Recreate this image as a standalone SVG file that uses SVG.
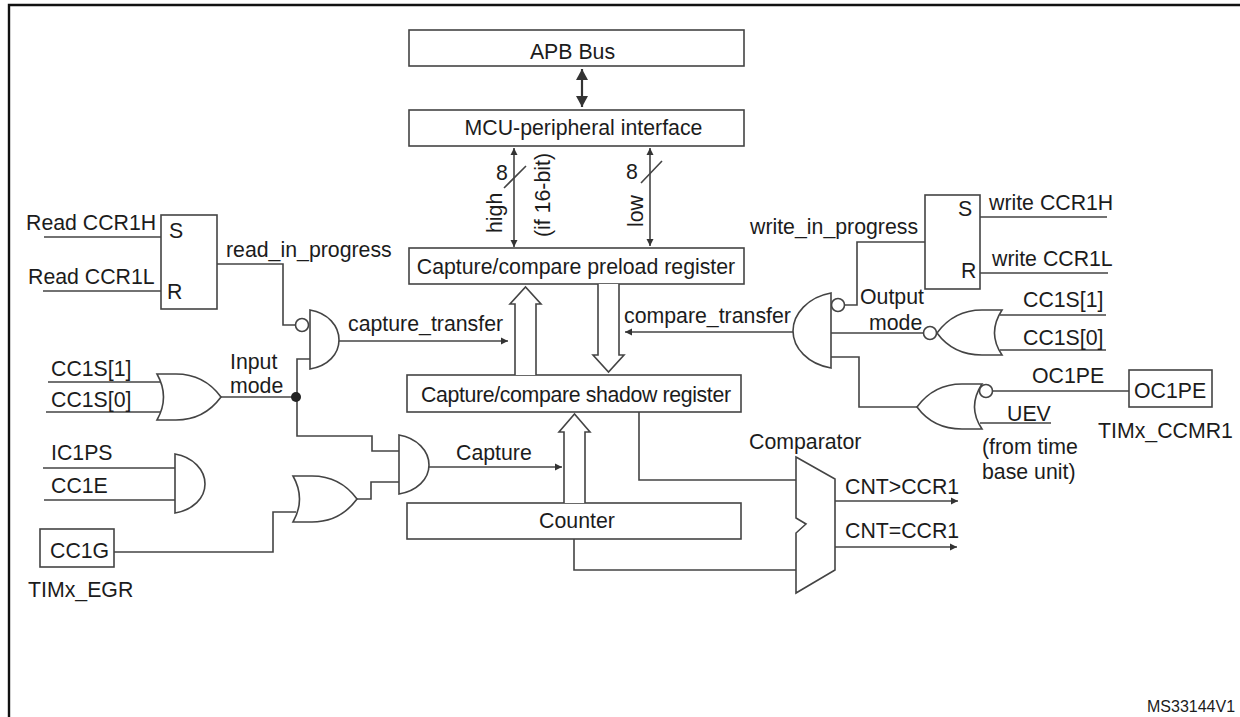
<svg xmlns="http://www.w3.org/2000/svg" width="1240" height="717" viewBox="0 0 1240 717">
<style>
text{font-family:"Liberation Sans",Arial,sans-serif;font-size:21.3px;fill:#1c1c1c}
.b{fill:#fff;stroke:#444;stroke-width:1.6}
.w{fill:none;stroke:#444;stroke-width:1.6}
.t{fill:none;stroke:#333;stroke-width:2.2}
.m{text-anchor:middle}
</style>
<defs>
<marker id="a" markerUnits="userSpaceOnUse" markerWidth="10" markerHeight="10" refX="7" refY="4" orient="auto-start-reverse"><path d="M0 0.5L7 4L0 7.5Z" fill="#333"/></marker>
<marker id="d" markerUnits="userSpaceOnUse" markerWidth="14" markerHeight="14" refX="11" refY="6" orient="auto-start-reverse"><path d="M0 0L11 6L0 12Z" fill="#333"/></marker>
</defs>
<rect width="1240" height="717" fill="#fff"/>
<path id="frame" d="M9 717V5H1240" fill="none" stroke="#111" stroke-width="2.4"/>
<g id="connectors">
<path class="t" d="M582 69V107" marker-start="url(#d)" marker-end="url(#d)"/>
<path class="w" d="M514 148V247" marker-start="url(#a)" marker-end="url(#a)"/>
<path class="w" d="M650 148V246" marker-start="url(#a)" marker-end="url(#a)"/>
<path class="w" d="M504 188L526 166M641 183L662 161"/>
<path class="w" d="M44 237H161M43 291H161M217 264H283V325H295"/>
<path class="w" d="M48 382H160M46 412H160M221 397H296M310 359H297V436H372V451H399"/>
<path class="w" d="M43 468H175M44 500H175"/>
<path class="w" d="M114 552H273V512H296M357 499H371V482H399"/>
<path class="w" d="M339 341H508" marker-end="url(#a)"/>
<path class="w" d="M429 467H562" marker-end="url(#a)"/>
<path class="w" d="M793 332H625" marker-end="url(#a)"/>
<path class="w" d="M980 217H1107M980 273H1108M925 242H857V305H845"/>
<path class="w" d="M831 333H924M1000 315H1106M1000 350H1106"/>
<path class="w" d="M831 357H859V407H917M993 391H1129M980 423H1051"/>
<path class="w" d="M639 412V480H796M574 539V570H796"/>
<path class="w" d="M835 501H958" marker-end="url(#a)"/>
<path class="w" d="M835 547H957" marker-end="url(#a)"/>
<circle cx="296" cy="397" r="5" fill="#222"/>
</g>
<g id="labels">
<text x="26" y="230">Read CCR1H</text>
<text x="28" y="284">Read CCR1L</text>
<text x="226" y="257">read_in_progress</text>
<text x="348" y="331">capture_transfer</text>
<text x="230" y="369">Input</text>
<text x="230" y="393">mode</text>
<text x="51" y="376">CC1S[1]</text>
<text x="51" y="407">CC1S[0]</text>
<text x="51" y="460">IC1PS</text>
<text x="51" y="493">CC1E</text>
<text x="456" y="460">Capture</text>
<text x="624" y="323">compare_transfer</text>
<text x="750" y="234">write_in_progress</text>
<text x="989" y="210">write CCR1H</text>
<text x="992" y="266">write CCR1L</text>
<text x="860" y="304">Output</text>
<text x="869" y="330">mode</text>
<text x="1023" y="307">CC1S[1]</text>
<text x="1023" y="345">CC1S[0]</text>
<text x="1032" y="383">OC1PE</text>
<text x="1007" y="421">UEV</text>
<text x="982" y="454">(from time</text>
<text x="982" y="479">base unit)</text>
<text x="749" y="449">Comparator</text>
<text x="845" y="494">CNT&gt;CCR1</text>
<text x="845" y="538">CNT=CCR1</text>
<text x="496" y="180">8</text>
<text x="626" y="179">8</text>
<text transform="translate(502 233) rotate(-90)">high</text>
<text transform="translate(550 237) rotate(-90)">(if 16-bit)</text>
<text transform="translate(643 227) rotate(-90)">low</text>
<text x="1147" y="712" style="font-size:16px">MS33144V1</text>
</g>
<g id="apb-bus"><rect class="b" x="409" y="30" width="335" height="36"/><text class="m" x="572.5" y="58.5">APB Bus</text></g>
<g id="mcu-interface"><rect class="b" x="409" y="110" width="335" height="36"/><text class="m" x="583.5" y="135">MCU-peripheral interface</text></g>
<g id="preload-register"><rect class="b" x="409" y="248" width="335" height="36"/><text class="m" x="576" y="274">Capture/compare preload register</text></g>
<g id="shadow-register"><rect class="b" x="407" y="375" width="334" height="37"/><text x="421" y="402" textLength="310">Capture/compare shadow register</text></g>
<g id="counter"><rect class="b" x="407" y="503" width="334" height="36"/><text class="m" x="577" y="528">Counter</text></g>
<g id="arrow-shadow-to-preload"><path class="b" d="M515 375V304H510L525.5 287L541 304H536V375"/></g>
<g id="arrow-preload-to-shadow"><path class="b" d="M598 284V355H593L608.5 372L624 355H619V284"/></g>
<g id="arrow-capture"><path class="b" d="M564 503V432H559L574.5 414L590 432H585V503"/></g>
<g id="sr-read"><rect class="b" x="161" y="215" width="56" height="94"/><text x="169" y="238">S</text><text x="167" y="299">R</text></g>
<g id="sr-write"><rect class="b" x="925" y="195" width="55" height="94"/><text x="958" y="216">S</text><text x="961" y="278">R</text></g>
<g id="and-capture-transfer"><circle class="b" cx="302" cy="325" r="6.5"/><path class="b" d="M310 310C328 313 339 326 339 340C339 354 328 366 310 369Z"/></g>
<g id="or-input-mode"><path class="b" d="M157 374Q170 397 157 420H176C194 420 210 412 221 397C210 382 194 374 176 374Z"/></g>
<g id="and-capture"><path class="b" d="M399 435C417 438 429 451 429 465C429 479 417 491 399 494Z"/></g>
<g id="and-ic1ps"><path class="b" d="M175 454C193 457 205 470 205 484C205 498 193 510 175 513Z"/></g>
<g id="or-capture"><path class="b" d="M293 476Q306 499 293 522H312C330 522 346 514 357 499C346 484 330 476 312 476Z"/></g>
<g id="cc1g"><rect class="b" x="40" y="529" width="74" height="38"/><text x="50" y="558">CC1G</text><text x="28" y="597">TIMx_EGR</text></g>
<g id="and-compare-transfer"><circle class="b" cx="838" cy="305" r="6.5"/><path class="b" d="M831 293C808 297 793 314 793 331C793 348 808 364 831 368Z"/></g>
<g id="nor-output-mode"><path class="b" d="M1002 310Q987 333 1002 355H982C962 355 948 348 937 333C948 318 962 310 982 310Z"/><circle class="b" cx="930" cy="333" r="6.5"/></g>
<g id="nor-oc1pe"><path class="b" d="M982 384Q967 407 982 429H962C942 429 928 422 917 407C928 392 942 384 962 384Z"/><circle class="b" cx="986" cy="391" r="6.5"/></g>
<g id="oc1pe"><rect class="b" x="1129" y="370" width="83" height="37"/><text x="1134" y="398">OC1PE</text><text x="1098" y="438">TIMx_CCMR1</text></g>
<g id="comparator"><path class="b" d="M796 457L835 479V570L796 593V533L806 524L796 518Z"/></g>
</svg>
